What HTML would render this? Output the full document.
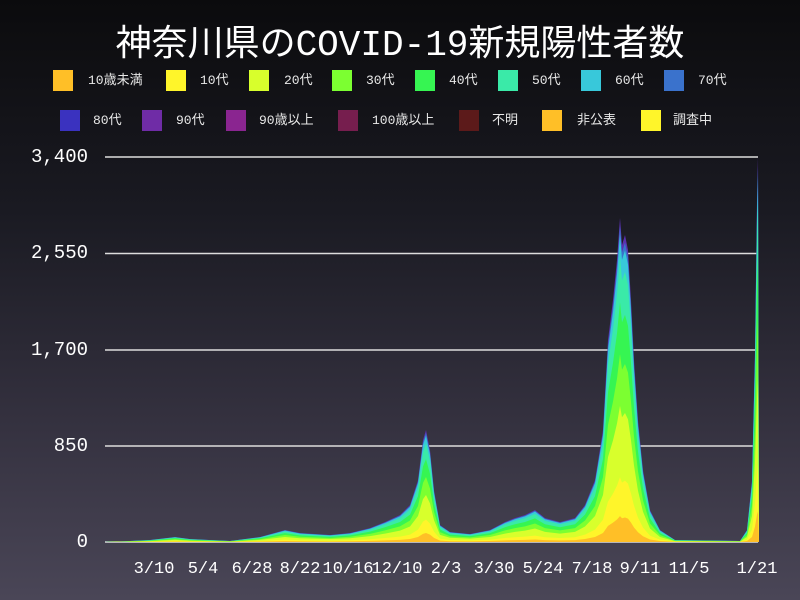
<!DOCTYPE html>
<html><head><meta charset="utf-8"><style>
html,body{margin:0;padding:0}
body{width:800px;height:600px;overflow:hidden;background:linear-gradient(#0b0b0d 0%,#1a1a22 35%,#34313f 70%,#4a4657 100%);font-family:"Liberation Mono","Noto Sans CJK JP",monospace;color:#fff;position:relative}
.t{position:absolute;left:0;width:800px;text-align:center;top:14px;font-size:36px;font-family:"Liberation Mono","Noto Sans CJK JP",monospace}
.lg{position:absolute;font-size:13px;color:#e8e8e8;line-height:21px}
.sw{position:absolute;width:20px;height:21px}
.yl{position:absolute;right:712px;font-size:19px;text-align:right}
.xl{position:absolute;top:560px;font-size:17px;transform:translateX(-50%)}
</style></head><body>
<div class="t">神奈川県のCOVID-19新規陽性者数</div>
<div class="sw" style="left:53px;top:70px;background:#ffbf27"></div><div class="lg" style="left:88px;top:70px">10歳未満</div>
<div class="sw" style="left:166px;top:70px;background:#fff52a"></div><div class="lg" style="left:200px;top:70px">10代</div>
<div class="sw" style="left:249px;top:70px;background:#d8ff2c"></div><div class="lg" style="left:284px;top:70px">20代</div>
<div class="sw" style="left:332px;top:70px;background:#7cff31"></div><div class="lg" style="left:366px;top:70px">30代</div>
<div class="sw" style="left:415px;top:70px;background:#36f552"></div><div class="lg" style="left:449px;top:70px">40代</div>
<div class="sw" style="left:498px;top:70px;background:#3aeaa8"></div><div class="lg" style="left:532px;top:70px">50代</div>
<div class="sw" style="left:581px;top:70px;background:#38c8da"></div><div class="lg" style="left:615px;top:70px">60代</div>
<div class="sw" style="left:664px;top:70px;background:#3a72cc"></div><div class="lg" style="left:698px;top:70px">70代</div>
<div class="sw" style="left:60px;top:110px;background:#3a32bf"></div><div class="lg" style="left:93px;top:110px">80代</div>
<div class="sw" style="left:142px;top:110px;background:#6f2ca6"></div><div class="lg" style="left:176px;top:110px">90代</div>
<div class="sw" style="left:226px;top:110px;background:#8a2590"></div><div class="lg" style="left:259px;top:110px">90歳以上</div>
<div class="sw" style="left:338px;top:110px;background:#761e4e"></div><div class="lg" style="left:372px;top:110px">100歳以上</div>
<div class="sw" style="left:459px;top:110px;background:#5c1a1a"></div><div class="lg" style="left:492px;top:110px">不明</div>
<div class="sw" style="left:542px;top:110px;background:#ffbf27"></div><div class="lg" style="left:577px;top:110px">非公表</div>
<div class="sw" style="left:641px;top:110px;background:#fff52a"></div><div class="lg" style="left:673px;top:110px">調査中</div>
<div class="yl" style="top:146px">3,400</div>
<div class="yl" style="top:242px">2,550</div>
<div class="yl" style="top:339px">1,700</div>
<div class="yl" style="top:435px">850</div>
<div class="yl" style="top:531px">0</div>
<div class="xl" style="left:154px">3/10</div>
<div class="xl" style="left:203px">5/4</div>
<div class="xl" style="left:252px">6/28</div>
<div class="xl" style="left:300px">8/22</div>
<div class="xl" style="left:348px">10/16</div>
<div class="xl" style="left:397px">12/10</div>
<div class="xl" style="left:446px">2/3</div>
<div class="xl" style="left:494px">3/30</div>
<div class="xl" style="left:543px">5/24</div>
<div class="xl" style="left:592px">7/18</div>
<div class="xl" style="left:640px">9/11</div>
<div class="xl" style="left:689px">11/5</div>
<div class="xl" style="left:757px">1/21</div>
<svg width="800" height="600" style="position:absolute;left:0;top:0">
<defs>
<polygon id="a" points="105,542 130,541 150,540 175,537 190,539 230,541 260,537 285,530 300,533 330,535 350,533 370,528 385,522 400,515 410,505 418,480 423,440 426,430 430,450 434,490 440,525 450,532 470,534 490,530 505,522 515,518 525,515 535,510 545,518 560,522 575,518 585,505 595,480 603,430 608,340 613,300 617,260 620,218 622,245 625,235 628,250 631,300 634,360 638,420 643,470 650,510 660,530 675,540 740,541 747,530 752,480 755,350 757,200 758,157 759,542"/>
</defs>
<g stroke="#ddd" stroke-width="1.5">
<line x1="105" y1="157" x2="758" y2="157"/><line x1="105" y1="253.5" x2="758" y2="253.5"/>
<line x1="105" y1="350" x2="758" y2="350"/><line x1="105" y1="446" x2="758" y2="446"/>
<line x1="105" y1="542" x2="758" y2="542"/></g>
<use href="#a" fill="#5a30b0"/>
<use href="#a" fill="#3a72cc" transform="translate(0,542) scale(1,0.975) translate(0,-542)"/>
<use href="#a" fill="#38c8da" transform="translate(0,542) scale(1,0.95) translate(0,-542)"/>
<use href="#a" fill="#3aeaa8" transform="translate(0,542) scale(1,0.88) translate(0,-542)"/>
<use href="#a" fill="#36f552" transform="translate(0,542) scale(1,0.74) translate(0,-542)"/>
<use href="#a" fill="#7cff31" transform="translate(0,542) scale(1,0.58) translate(0,-542)"/>
<use href="#a" fill="#d8ff2c" transform="translate(0,542) scale(1,0.42) translate(0,-542)"/>
<use href="#a" fill="#fff52a" transform="translate(0,542) scale(1,0.2) translate(0,-542)"/>
<use href="#a" fill="#ffbf27" transform="translate(0,542) scale(1,0.08) translate(0,-542)"/>
</svg>
</body></html>
